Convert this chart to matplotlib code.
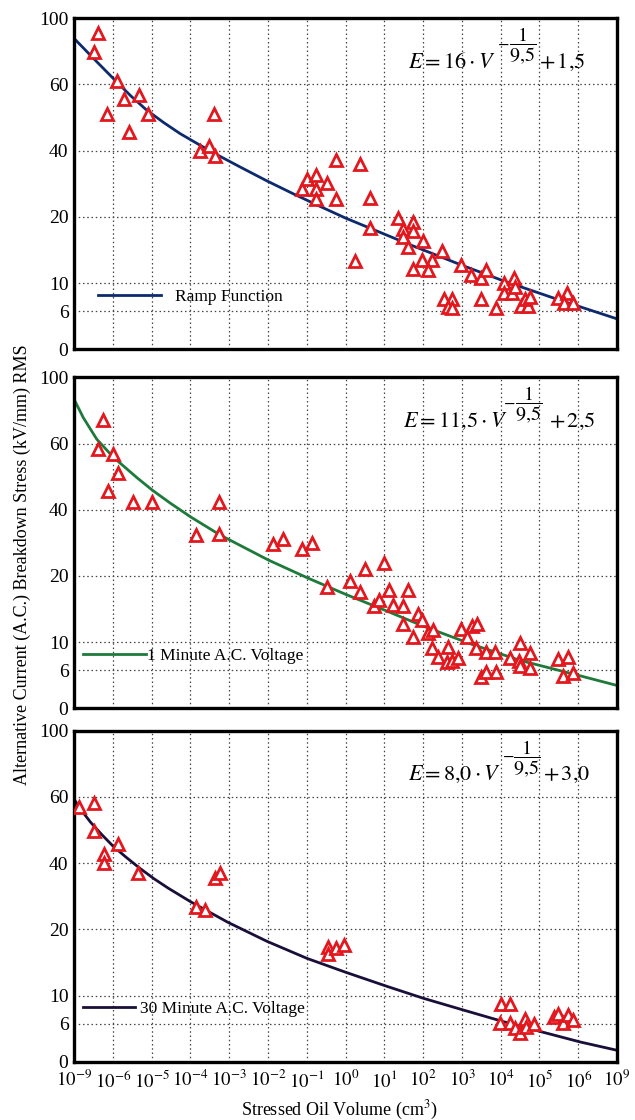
import numpy as np
import matplotlib
matplotlib.use("Agg")
import matplotlib.pyplot as plt
from matplotlib.ticker import NullLocator, FixedLocator

plt.rcParams['font.family'] = ['Liberation Serif', 'DejaVu Serif']
plt.rcParams['mathtext.fontset'] = 'stix'

# ---------------- axis definitions ----------------
x_tick_exponents = [-9, -6, -5, -4, -3, -2, -1, 0, 1, 2, 3, 4, 5, 6, 9]
y_tick_values = [0, 6, 10, 20, 40, 60, 100]

# ---------------- data: log10(volume cm^3), stress kV/mm ----------------
top_logv = [-7.12, -7.45, -5.88, -6.42, -5.70, -5.32, -5.09, -5.57, -3.38, -3.75,
            -3.51, -3.37, -1.13, -1.00, -0.76, -0.76, -0.76, -0.48, -0.24, -0.24,
            0.37, 0.63, 0.63, 0.24, 1.36, 1.49, 1.73, 1.75, 1.49, 1.62,
            1.99, 1.96, 2.24, 1.75, 2.12, 2.48, 2.98, 3.24, 3.49, 3.61,
            4.09, 4.35, 4.09, 4.28, 4.37, 2.55, 2.74, 2.65, 2.75, 3.49,
            3.88, 4.52, 4.71, 4.64, 4.75, 5.48, 5.72, 5.64, 5.87]
top_stress = [90.9, 79.4, 62.2, 51.1, 55.5, 56.8, 51.1, 45.6, 51.1, 40.0,
              41.4, 38.5, 28.3, 31.3, 32.6, 28.3, 25.4, 30.1, 37.2, 25.4,
              35.9, 25.8, 18.3, 13.4, 19.8, 18.2, 19.2, 17.9, 16.9, 15.5,
              16.4, 13.5, 13.5, 12.2, 12.0, 14.8, 12.7, 11.2, 10.7, 12.0,
              10.0, 10.7, 8.6, 8.6, 9.4, 7.8, 7.8, 6.6, 6.4, 7.8,
              6.4, 6.7, 6.7, 7.8, 8.0, 7.9, 8.6, 7.2, 7.2]

mid_logv = [-6.73, -7.12, -5.99, -5.86, -6.35, -5.49, -5.00, -3.25, -3.85, -3.25,
            -1.88, -1.62, -1.13, -0.87, -0.48, 0.12, 0.50, 0.37, 1.00, 1.12,
            0.74, 0.87, 1.23, 1.49, 1.62, 1.49, 1.86, 1.98, 1.75, 2.13,
            2.26, 2.24, 2.38, 2.64, 2.61, 2.75, 2.89, 2.99, 3.12, 3.25,
            3.38, 3.36, 3.61, 3.85, 3.49, 3.61, 3.88, 4.24, 4.50, 4.47,
            4.50, 4.76, 4.76, 5.49, 5.74, 5.61, 5.87]
mid_stress = [74.1, 58.2, 56.8, 51.0, 45.6, 42.4, 42.4, 42.4, 32.3, 32.6,
              29.6, 31.0, 28.1, 29.8, 18.3, 19.2, 22.2, 17.6, 23.9, 17.8,
              15.4, 16.4, 15.6, 15.5, 17.8, 12.8, 14.2, 13.3, 10.8, 11.4,
              11.9, 9.2, 7.9, 9.3, 7.2, 7.3, 7.8, 12.0, 10.7, 12.4,
              12.8, 9.1, 8.6, 8.6, 5.0, 5.8, 5.8, 7.8, 9.9, 7.3,
              6.6, 8.5, 6.3, 7.6, 7.9, 5.1, 5.6]

bot_logv = [-8.61, -7.45, -7.45, -6.68, -6.68, -5.87, -5.36, -3.85, -3.62, -3.36,
            -3.24, -0.46, -0.46, -0.25, -0.03, 4.01, 4.24, 3.98, 4.24, 4.37,
            4.50, 4.63, 4.65, 4.87, 5.38, 5.48, 5.61, 5.74, 5.87]
bot_stress = [56.8, 58.3, 49.8, 42.7, 39.9, 45.7, 37.1, 26.8, 25.8, 35.6,
              36.9, 17.4, 16.3, 17.1, 17.6, 8.8, 8.8, 6.1, 6.1, 5.3,
              4.5, 6.6, 5.5, 6.0, 6.9, 7.4, 6.1, 7.2, 6.5]

# fitted curves
top_curve_logv = [-9, -7.51, -5.88, -5.53, -5.13, -4.70, -4.27, -3.83, -3.38, -2.72,
                  -2.03, -1.35, -0.66, 0.01, 0.63, 1.62, 3.0, 4.09, 5.48, 9]
top_curve_stress = [87.9, 75.9, 61.1, 56.5, 52.3, 48.6, 45.2, 42.2, 39.2, 35.1,
                    30.9, 27.0, 23.2, 19.8, 18.3, 15.9, 12.7, 10.3, 7.66, 4.8]
mid_curve_logv = [-9, -8.28, -7.24, -5.99, -5.38, -4.98, -4.52, -3.99, -3.24, -1.99,
                  -0.98, 0.01, 1.02, 2.01, 3.25, 4.50, 6.0, 9]
mid_curve_stress = [86.8, 75.6, 62.6, 55.9, 49.7, 45.9, 42.0, 37.8, 32.4, 24.8,
                    19.7, 17.2, 14.8, 12.4, 9.7, 7.4, 5.2, 3.6]
bot_curve_logv = [-9, -8.38, -7.73, -6.85, -6.0, -5.67, -5.31, -4.94, -4.58, -3.99,
                  -3.03, -2.03, -0.99, 0.01, 1.06, 2.01, 3.06, 4.06, 5.06, 6.17, 9]
bot_curve_stress = [59.3, 55.7, 52.4, 48.6, 45.2, 41.9, 38.5, 35.3, 32.5, 28.3,
                    22.1, 18.2, 15.6, 13.5, 11.4, 9.6, 7.9, 6.3, 4.7, 3.1, 1.8]

labels = ["Ramp Function", "1 Minute A.C. Voltage", "30 Minute A.C. Voltage"]
eq_main = [r"$E = 16\cdot V$", r"$E = 11{,}5\cdot V$", r"$E = 8{,}0\cdot V$"]
eq_frac = r"$\dfrac{1}{9{,}5}$"
eq_tail = [r"$+\,1{,}5$", r"$+\,2{,}5$", r"$+\,3{,}0$"]
curve_colors = ["#0d2a6c", "#1d7a3a", "#1a0f38"]
marker_color = "#e3181f"

# ---------------- scales ----------------
XE = np.array(x_tick_exponents, dtype=float)
XP = np.arange(len(XE), dtype=float)
YV = np.array(y_tick_values, dtype=float)
YU = np.array([0, 0.115, 0.2, 0.4, 0.6, 0.8, 1.0])


def xf(x):
    x = np.asarray(x, dtype=float)
    return np.interp(np.log10(np.clip(x, 1e-300, None)), XE, XP, left=-1e3, right=1e3)


def xi(p):
    return 10.0 ** np.interp(np.asarray(p, dtype=float), XP, XE)


def yf(v):
    return np.interp(np.asarray(v, dtype=float), YV, YU)


def yi(u):
    return np.interp(np.asarray(u, dtype=float), YU, YV)


fig = plt.figure(figsize=(6.35, 11.2), dpi=100)
W, H = 635.0, 1120.0
left, right = 74, 617
panel_tops = [18.3, 377.3, 730.7]
ph = 331.0

datasets = [(top_logv, top_stress, top_curve_logv, top_curve_stress),
            (mid_logv, mid_stress, mid_curve_logv, mid_curve_stress),
            (bot_logv, bot_stress, bot_curve_logv, bot_curve_stress)]
# equation layout (pixels)
eq_left = [408, 403, 408]
eq_minus_x = [503, 509, 508]
eq_frac_x = [523, 528.5, 526.5]
eq_right = [585, 595, 590]
eq_base_from_top = 49.7
eq_bar_above = 22.0
eq_minus_above = 24.5
leg_x = [98, 83, 83]
leg_hl = [3.6, 3.6, 3.0]
leg_pad = [0.85, 0.1, 0.3]

for i, (lv, st, clv, cst) in enumerate(datasets):
    ax = fig.add_axes([left / W, 1 - (panel_tops[i] + ph) / H, (right - left) / W, ph / H])
    ax.set_xscale('function', functions=(xf, xi))
    ax.set_yscale('function', functions=(yf, yi))
    ax.set_xlim(10.0 ** XE[0], 10.0 ** XE[-1])
    ax.set_ylim(0, 100)

    ax.plot(10.0 ** np.array(clv), cst, color=curve_colors[i], lw=2.0, label=labels[i],
            zorder=2, solid_joinstyle='round')
    ax.plot(10.0 ** np.array(lv), st, linestyle='none', marker='^', markersize=8.5,
            markerfacecolor='white', markeredgecolor=marker_color, markeredgewidth=2.0, zorder=3)

    ax.xaxis.set_major_locator(FixedLocator(10.0 ** XE))
    ax.xaxis.set_minor_locator(NullLocator())
    ax.yaxis.set_major_locator(FixedLocator(YV))
    ax.yaxis.set_minor_locator(NullLocator())
    ax.set_yticklabels([str(int(v)) for v in YV], fontsize=14)
    if i == 2:
        ax.set_xticklabels([r"$10^{%d}$" % int(e) for e in XE], fontsize=13.5)
    else:
        ax.set_xticklabels([])
    ax.tick_params(length=0, pad=4)
    ax.tick_params(axis='x', pad=6)
    ax.grid(True, which='major', linestyle=(0, (1.2, 2.2)), color='#444444', lw=0.9)
    for sp in ax.spines.values():
        sp.set_linewidth(2.4)
        sp.set_color('black')
    ax.set_axisbelow(True)

    # equation
    yb = 1 - eq_base_from_top / ph
    ybar = 1 - (eq_base_from_top - eq_bar_above) / ph
    yminus = 1 - (eq_base_from_top - eq_minus_above) / ph
    ax.text((eq_left[i] - left) / (right - left), yb, eq_main[i], transform=ax.transAxes,
            ha='left', va='baseline', fontsize=16)
    ax.text((eq_minus_x[i] - left) / (right - left), yminus, r"$-$", transform=ax.transAxes,
            ha='center', va='center', fontsize=12)
    ax.text((eq_frac_x[i] - left) / (right - left), ybar, eq_frac, transform=ax.transAxes,
            ha='center', va='center', fontsize=14.5)
    ax.text((eq_right[i] - left) / (right - left), yb, eq_tail[i], transform=ax.transAxes,
            ha='right', va='baseline', fontsize=16)

    ax.legend(loc='center left', bbox_to_anchor=((leg_x[i] - left) / (right - left), 0.158),
              frameon=False, borderpad=0, borderaxespad=0, handlelength=leg_hl[i],
              handletextpad=leg_pad[i], fontsize=12.5)

fig.text(22 / W, 1 - 565 / H, "Alternative Current (A.C.) Breakdown Stress (kV/mm) RMS",
         rotation=90, ha='center', va='center', fontsize=13)
fig.text(340 / W, 1 - 1110 / H, r"Stressed Oil Volume (cm$^3$)", ha='center', va='center', fontsize=13)

fig.savefig("out.png", dpi=100)
